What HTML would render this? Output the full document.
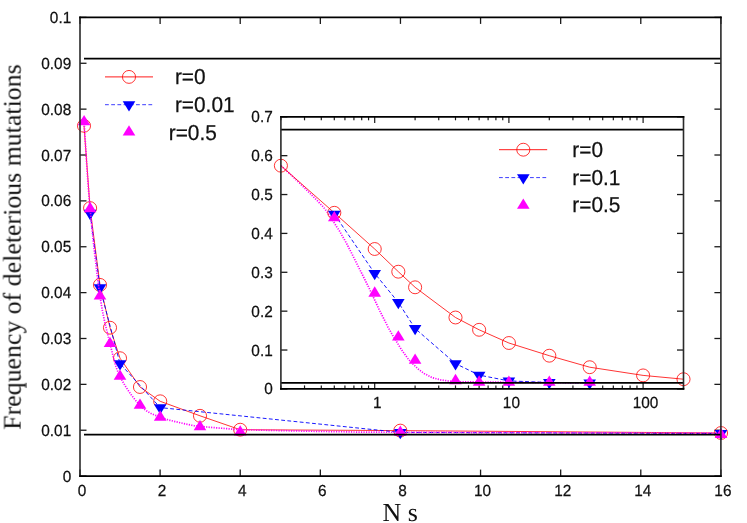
<!DOCTYPE html>
<html><head><meta charset="utf-8"><title>chart</title>
<style>html,body{margin:0;padding:0;background:#fff;}body{width:747px;height:523px;overflow:hidden;position:relative;}</style></head>
<body>
<svg width="747" height="523" viewBox="0 0 747 523" style="position:absolute;left:0;top:0">
<rect width="747" height="523" fill="#fff"/>
<line x1="80.0" y1="476.10" x2="86.5" y2="476.10" stroke="#1a1a1a" stroke-width="1.3"/>
<line x1="720.9" y1="476.10" x2="714.4" y2="476.10" stroke="#1a1a1a" stroke-width="1.3"/>
<line x1="80.0" y1="430.23" x2="86.5" y2="430.23" stroke="#1a1a1a" stroke-width="1.3"/>
<line x1="720.9" y1="430.23" x2="714.4" y2="430.23" stroke="#1a1a1a" stroke-width="1.3"/>
<line x1="80.0" y1="384.36" x2="86.5" y2="384.36" stroke="#1a1a1a" stroke-width="1.3"/>
<line x1="720.9" y1="384.36" x2="714.4" y2="384.36" stroke="#1a1a1a" stroke-width="1.3"/>
<line x1="80.0" y1="338.49" x2="86.5" y2="338.49" stroke="#1a1a1a" stroke-width="1.3"/>
<line x1="720.9" y1="338.49" x2="714.4" y2="338.49" stroke="#1a1a1a" stroke-width="1.3"/>
<line x1="80.0" y1="292.62" x2="86.5" y2="292.62" stroke="#1a1a1a" stroke-width="1.3"/>
<line x1="720.9" y1="292.62" x2="714.4" y2="292.62" stroke="#1a1a1a" stroke-width="1.3"/>
<line x1="80.0" y1="246.75" x2="86.5" y2="246.75" stroke="#1a1a1a" stroke-width="1.3"/>
<line x1="720.9" y1="246.75" x2="714.4" y2="246.75" stroke="#1a1a1a" stroke-width="1.3"/>
<line x1="80.0" y1="200.88" x2="86.5" y2="200.88" stroke="#1a1a1a" stroke-width="1.3"/>
<line x1="720.9" y1="200.88" x2="714.4" y2="200.88" stroke="#1a1a1a" stroke-width="1.3"/>
<line x1="80.0" y1="155.01" x2="86.5" y2="155.01" stroke="#1a1a1a" stroke-width="1.3"/>
<line x1="720.9" y1="155.01" x2="714.4" y2="155.01" stroke="#1a1a1a" stroke-width="1.3"/>
<line x1="80.0" y1="109.14" x2="86.5" y2="109.14" stroke="#1a1a1a" stroke-width="1.3"/>
<line x1="720.9" y1="109.14" x2="714.4" y2="109.14" stroke="#1a1a1a" stroke-width="1.3"/>
<line x1="80.0" y1="63.27" x2="86.5" y2="63.27" stroke="#1a1a1a" stroke-width="1.3"/>
<line x1="720.9" y1="63.27" x2="714.4" y2="63.27" stroke="#1a1a1a" stroke-width="1.3"/>
<line x1="80.0" y1="17.40" x2="86.5" y2="17.40" stroke="#1a1a1a" stroke-width="1.3"/>
<line x1="720.9" y1="17.40" x2="714.4" y2="17.40" stroke="#1a1a1a" stroke-width="1.3"/>
<line x1="80.00" y1="476.1" x2="80.00" y2="469.6" stroke="#1a1a1a" stroke-width="1.3"/>
<line x1="80.00" y1="17.4" x2="80.00" y2="23.9" stroke="#1a1a1a" stroke-width="1.3"/>
<line x1="160.11" y1="476.1" x2="160.11" y2="469.6" stroke="#1a1a1a" stroke-width="1.3"/>
<line x1="160.11" y1="17.4" x2="160.11" y2="23.9" stroke="#1a1a1a" stroke-width="1.3"/>
<line x1="240.22" y1="476.1" x2="240.22" y2="469.6" stroke="#1a1a1a" stroke-width="1.3"/>
<line x1="240.22" y1="17.4" x2="240.22" y2="23.9" stroke="#1a1a1a" stroke-width="1.3"/>
<line x1="320.34" y1="476.1" x2="320.34" y2="469.6" stroke="#1a1a1a" stroke-width="1.3"/>
<line x1="320.34" y1="17.4" x2="320.34" y2="23.9" stroke="#1a1a1a" stroke-width="1.3"/>
<line x1="400.45" y1="476.1" x2="400.45" y2="469.6" stroke="#1a1a1a" stroke-width="1.3"/>
<line x1="400.45" y1="17.4" x2="400.45" y2="23.9" stroke="#1a1a1a" stroke-width="1.3"/>
<line x1="480.56" y1="476.1" x2="480.56" y2="469.6" stroke="#1a1a1a" stroke-width="1.3"/>
<line x1="480.56" y1="17.4" x2="480.56" y2="23.9" stroke="#1a1a1a" stroke-width="1.3"/>
<line x1="560.67" y1="476.1" x2="560.67" y2="469.6" stroke="#1a1a1a" stroke-width="1.3"/>
<line x1="560.67" y1="17.4" x2="560.67" y2="23.9" stroke="#1a1a1a" stroke-width="1.3"/>
<line x1="640.79" y1="476.1" x2="640.79" y2="469.6" stroke="#1a1a1a" stroke-width="1.3"/>
<line x1="640.79" y1="17.4" x2="640.79" y2="23.9" stroke="#1a1a1a" stroke-width="1.3"/>
<line x1="720.90" y1="476.1" x2="720.90" y2="469.6" stroke="#1a1a1a" stroke-width="1.3"/>
<line x1="720.90" y1="17.4" x2="720.90" y2="23.9" stroke="#1a1a1a" stroke-width="1.3"/>
<line x1="280.9" y1="388.90" x2="287.4" y2="388.90" stroke="#1a1a1a" stroke-width="1.3"/>
<line x1="683.50" y1="388.90" x2="677.00" y2="388.90" stroke="#1a1a1a" stroke-width="1.3"/>
<line x1="280.9" y1="350.03" x2="287.4" y2="350.03" stroke="#1a1a1a" stroke-width="1.3"/>
<line x1="683.50" y1="350.03" x2="677.00" y2="350.03" stroke="#1a1a1a" stroke-width="1.3"/>
<line x1="280.9" y1="311.16" x2="287.4" y2="311.16" stroke="#1a1a1a" stroke-width="1.3"/>
<line x1="683.50" y1="311.16" x2="677.00" y2="311.16" stroke="#1a1a1a" stroke-width="1.3"/>
<line x1="280.9" y1="272.29" x2="287.4" y2="272.29" stroke="#1a1a1a" stroke-width="1.3"/>
<line x1="683.50" y1="272.29" x2="677.00" y2="272.29" stroke="#1a1a1a" stroke-width="1.3"/>
<line x1="280.9" y1="233.41" x2="287.4" y2="233.41" stroke="#1a1a1a" stroke-width="1.3"/>
<line x1="683.50" y1="233.41" x2="677.00" y2="233.41" stroke="#1a1a1a" stroke-width="1.3"/>
<line x1="280.9" y1="194.54" x2="287.4" y2="194.54" stroke="#1a1a1a" stroke-width="1.3"/>
<line x1="683.50" y1="194.54" x2="677.00" y2="194.54" stroke="#1a1a1a" stroke-width="1.3"/>
<line x1="280.9" y1="155.67" x2="287.4" y2="155.67" stroke="#1a1a1a" stroke-width="1.3"/>
<line x1="683.50" y1="155.67" x2="677.00" y2="155.67" stroke="#1a1a1a" stroke-width="1.3"/>
<line x1="280.9" y1="116.80" x2="287.4" y2="116.80" stroke="#1a1a1a" stroke-width="1.3"/>
<line x1="683.50" y1="116.80" x2="677.00" y2="116.80" stroke="#1a1a1a" stroke-width="1.3"/>
<line x1="280.90" y1="388.9" x2="280.90" y2="385.4" stroke="#1a1a1a" stroke-width="1.2"/>
<line x1="280.90" y1="116.8" x2="280.90" y2="120.3" stroke="#1a1a1a" stroke-width="1.2"/>
<line x1="304.53" y1="388.9" x2="304.53" y2="385.4" stroke="#1a1a1a" stroke-width="1.2"/>
<line x1="304.53" y1="116.8" x2="304.53" y2="120.3" stroke="#1a1a1a" stroke-width="1.2"/>
<line x1="321.30" y1="388.9" x2="321.30" y2="385.4" stroke="#1a1a1a" stroke-width="1.2"/>
<line x1="321.30" y1="116.8" x2="321.30" y2="120.3" stroke="#1a1a1a" stroke-width="1.2"/>
<line x1="334.30" y1="388.9" x2="334.30" y2="385.4" stroke="#1a1a1a" stroke-width="1.2"/>
<line x1="334.30" y1="116.8" x2="334.30" y2="120.3" stroke="#1a1a1a" stroke-width="1.2"/>
<line x1="344.93" y1="388.9" x2="344.93" y2="385.4" stroke="#1a1a1a" stroke-width="1.2"/>
<line x1="344.93" y1="116.8" x2="344.93" y2="120.3" stroke="#1a1a1a" stroke-width="1.2"/>
<line x1="353.91" y1="388.9" x2="353.91" y2="385.4" stroke="#1a1a1a" stroke-width="1.2"/>
<line x1="353.91" y1="116.8" x2="353.91" y2="120.3" stroke="#1a1a1a" stroke-width="1.2"/>
<line x1="361.70" y1="388.9" x2="361.70" y2="385.4" stroke="#1a1a1a" stroke-width="1.2"/>
<line x1="361.70" y1="116.8" x2="361.70" y2="120.3" stroke="#1a1a1a" stroke-width="1.2"/>
<line x1="368.56" y1="388.9" x2="368.56" y2="385.4" stroke="#1a1a1a" stroke-width="1.2"/>
<line x1="368.56" y1="116.8" x2="368.56" y2="120.3" stroke="#1a1a1a" stroke-width="1.2"/>
<line x1="374.70" y1="388.9" x2="374.70" y2="382.59999999999997" stroke="#1a1a1a" stroke-width="1.2"/>
<line x1="374.70" y1="116.8" x2="374.70" y2="123.1" stroke="#1a1a1a" stroke-width="1.2"/>
<line x1="415.10" y1="388.9" x2="415.10" y2="385.4" stroke="#1a1a1a" stroke-width="1.2"/>
<line x1="415.10" y1="116.8" x2="415.10" y2="120.3" stroke="#1a1a1a" stroke-width="1.2"/>
<line x1="438.73" y1="388.9" x2="438.73" y2="385.4" stroke="#1a1a1a" stroke-width="1.2"/>
<line x1="438.73" y1="116.8" x2="438.73" y2="120.3" stroke="#1a1a1a" stroke-width="1.2"/>
<line x1="455.50" y1="388.9" x2="455.50" y2="385.4" stroke="#1a1a1a" stroke-width="1.2"/>
<line x1="455.50" y1="116.8" x2="455.50" y2="120.3" stroke="#1a1a1a" stroke-width="1.2"/>
<line x1="468.50" y1="388.9" x2="468.50" y2="385.4" stroke="#1a1a1a" stroke-width="1.2"/>
<line x1="468.50" y1="116.8" x2="468.50" y2="120.3" stroke="#1a1a1a" stroke-width="1.2"/>
<line x1="479.13" y1="388.9" x2="479.13" y2="385.4" stroke="#1a1a1a" stroke-width="1.2"/>
<line x1="479.13" y1="116.8" x2="479.13" y2="120.3" stroke="#1a1a1a" stroke-width="1.2"/>
<line x1="488.11" y1="388.9" x2="488.11" y2="385.4" stroke="#1a1a1a" stroke-width="1.2"/>
<line x1="488.11" y1="116.8" x2="488.11" y2="120.3" stroke="#1a1a1a" stroke-width="1.2"/>
<line x1="495.90" y1="388.9" x2="495.90" y2="385.4" stroke="#1a1a1a" stroke-width="1.2"/>
<line x1="495.90" y1="116.8" x2="495.90" y2="120.3" stroke="#1a1a1a" stroke-width="1.2"/>
<line x1="502.76" y1="388.9" x2="502.76" y2="385.4" stroke="#1a1a1a" stroke-width="1.2"/>
<line x1="502.76" y1="116.8" x2="502.76" y2="120.3" stroke="#1a1a1a" stroke-width="1.2"/>
<line x1="508.90" y1="388.9" x2="508.90" y2="382.59999999999997" stroke="#1a1a1a" stroke-width="1.2"/>
<line x1="508.90" y1="116.8" x2="508.90" y2="123.1" stroke="#1a1a1a" stroke-width="1.2"/>
<line x1="549.30" y1="388.9" x2="549.30" y2="385.4" stroke="#1a1a1a" stroke-width="1.2"/>
<line x1="549.30" y1="116.8" x2="549.30" y2="120.3" stroke="#1a1a1a" stroke-width="1.2"/>
<line x1="572.93" y1="388.9" x2="572.93" y2="385.4" stroke="#1a1a1a" stroke-width="1.2"/>
<line x1="572.93" y1="116.8" x2="572.93" y2="120.3" stroke="#1a1a1a" stroke-width="1.2"/>
<line x1="589.70" y1="388.9" x2="589.70" y2="385.4" stroke="#1a1a1a" stroke-width="1.2"/>
<line x1="589.70" y1="116.8" x2="589.70" y2="120.3" stroke="#1a1a1a" stroke-width="1.2"/>
<line x1="602.70" y1="388.9" x2="602.70" y2="385.4" stroke="#1a1a1a" stroke-width="1.2"/>
<line x1="602.70" y1="116.8" x2="602.70" y2="120.3" stroke="#1a1a1a" stroke-width="1.2"/>
<line x1="613.33" y1="388.9" x2="613.33" y2="385.4" stroke="#1a1a1a" stroke-width="1.2"/>
<line x1="613.33" y1="116.8" x2="613.33" y2="120.3" stroke="#1a1a1a" stroke-width="1.2"/>
<line x1="622.31" y1="388.9" x2="622.31" y2="385.4" stroke="#1a1a1a" stroke-width="1.2"/>
<line x1="622.31" y1="116.8" x2="622.31" y2="120.3" stroke="#1a1a1a" stroke-width="1.2"/>
<line x1="630.10" y1="388.9" x2="630.10" y2="385.4" stroke="#1a1a1a" stroke-width="1.2"/>
<line x1="630.10" y1="116.8" x2="630.10" y2="120.3" stroke="#1a1a1a" stroke-width="1.2"/>
<line x1="636.96" y1="388.9" x2="636.96" y2="385.4" stroke="#1a1a1a" stroke-width="1.2"/>
<line x1="636.96" y1="116.8" x2="636.96" y2="120.3" stroke="#1a1a1a" stroke-width="1.2"/>
<line x1="643.10" y1="388.9" x2="643.10" y2="382.59999999999997" stroke="#1a1a1a" stroke-width="1.2"/>
<line x1="643.10" y1="116.8" x2="643.10" y2="123.1" stroke="#1a1a1a" stroke-width="1.2"/>
<line x1="683.50" y1="388.9" x2="683.50" y2="385.4" stroke="#1a1a1a" stroke-width="1.2"/>
<line x1="683.50" y1="116.8" x2="683.50" y2="120.3" stroke="#1a1a1a" stroke-width="1.2"/>
<polyline points="84.00,125.80 90.10,208.10 100.00,284.90 110.00,327.70 120.00,358.20 140.00,387.00 160.20,401.30 200.00,415.80 240.20,429.70 400.30,430.60 721.00,433.00" fill="none" stroke="#ff0000" stroke-width="0.8" stroke-opacity="1"/>
<ellipse cx="84.00" cy="125.80" rx="6.55" ry="6.45" fill="none" stroke="#ff0000" stroke-width="0.8"/>
<ellipse cx="90.10" cy="208.10" rx="6.55" ry="6.45" fill="none" stroke="#ff0000" stroke-width="0.8"/>
<ellipse cx="100.00" cy="284.90" rx="6.55" ry="6.45" fill="none" stroke="#ff0000" stroke-width="0.8"/>
<ellipse cx="110.00" cy="327.70" rx="6.55" ry="6.45" fill="none" stroke="#ff0000" stroke-width="0.8"/>
<ellipse cx="120.00" cy="358.20" rx="6.55" ry="6.45" fill="none" stroke="#ff0000" stroke-width="0.8"/>
<ellipse cx="140.00" cy="387.00" rx="6.55" ry="6.45" fill="none" stroke="#ff0000" stroke-width="0.8"/>
<ellipse cx="160.20" cy="401.30" rx="6.55" ry="6.45" fill="none" stroke="#ff0000" stroke-width="0.8"/>
<ellipse cx="200.00" cy="415.80" rx="6.55" ry="6.45" fill="none" stroke="#ff0000" stroke-width="0.8"/>
<ellipse cx="240.20" cy="429.70" rx="6.55" ry="6.45" fill="none" stroke="#ff0000" stroke-width="0.8"/>
<ellipse cx="400.30" cy="430.60" rx="6.55" ry="6.45" fill="none" stroke="#ff0000" stroke-width="0.8"/>
<ellipse cx="721.00" cy="433.00" rx="6.55" ry="6.45" fill="none" stroke="#ff0000" stroke-width="0.8"/>
<polyline points="90.10,213.30 100.00,287.80 120.00,363.60 160.20,407.60 400.30,432.40 721.00,433.50" fill="none" stroke="#0000ff" stroke-width="1.0" stroke-dasharray="3.8 2.4" stroke-opacity="0.9"/>
<polygon points="83.80,209.87 96.40,209.87 90.10,220.17" fill="#0000ff"/>
<polygon points="93.70,284.37 106.30,284.37 100.00,294.67" fill="#0000ff"/>
<polygon points="113.70,360.17 126.30,360.17 120.00,370.47" fill="#0000ff"/>
<polygon points="153.90,404.17 166.50,404.17 160.20,414.47" fill="#0000ff"/>
<polygon points="394.00,428.97 406.60,428.97 400.30,439.27" fill="#0000ff"/>
<polygon points="714.70,430.07 727.30,430.07 721.00,440.37" fill="#0000ff"/>
<polyline points="84.30,125.80 84.57,129.79 84.88,134.77 85.25,140.59 85.65,147.13 86.10,154.24 86.58,161.79 87.10,169.65 87.65,177.67 88.23,185.72 88.83,193.67 89.45,201.37 90.10,208.70 90.78,215.95 91.51,223.46 92.28,231.15 93.09,238.95 93.93,246.78 94.79,254.56 95.66,262.22 96.54,269.69 97.42,276.87 98.30,283.70 99.16,290.10 100.00,296.00 100.83,301.40 101.66,306.39 102.49,311.02 103.33,315.32 104.16,319.35 104.99,323.15 105.83,326.76 106.66,330.22 107.50,333.58 108.33,336.89 109.17,340.18 110.00,343.50 110.80,346.77 111.55,349.87 112.27,352.85 112.96,355.70 113.66,358.45 114.38,361.11 115.12,363.71 115.93,366.27 116.80,368.80 117.75,371.32 118.82,373.84 120.00,376.40 121.32,379.00 122.75,381.64 124.29,384.30 125.92,386.96 127.61,389.59 129.36,392.16 131.15,394.67 132.95,397.07 134.75,399.36 136.54,401.51 138.29,403.50 140.00,405.30 141.65,406.90 143.24,408.32 144.81,409.57 146.36,410.68 147.92,411.68 149.49,412.57 151.09,413.40 152.75,414.17 154.47,414.92 156.28,415.66 158.18,416.41 160.20,417.20 162.41,418.01 164.84,418.80 167.44,419.57 170.16,420.31 172.94,421.03 175.74,421.71 178.50,422.36 181.18,422.96 183.72,423.52 186.07,424.04 188.18,424.50 190.00,424.90 191.53,425.23 192.81,425.49 193.89,425.68 194.80,425.81 195.57,425.91 196.24,425.96 196.84,426.00 197.40,426.02 197.96,426.04 198.56,426.07 199.23,426.12 200.00,426.20 200.80,426.30 201.55,426.39 202.27,426.48 202.96,426.56 203.66,426.65 204.38,426.73 205.12,426.82 205.93,426.90 206.80,426.99 207.75,427.09 208.82,427.19 210.00,427.30 211.35,427.42 212.87,427.55 214.53,427.69 216.30,427.83 218.13,427.98 220.00,428.13 221.87,428.27 223.70,428.41 225.47,428.55 227.13,428.68 228.65,428.80 230.00,428.90 231.06,428.99 231.78,429.06 232.27,429.13 232.59,429.18 232.85,429.23 233.12,429.27 233.50,429.32 234.07,429.36 234.92,429.41 236.13,429.46 237.80,429.53 240.00,429.60 242.77,429.68 246.02,429.77 249.69,429.87 253.70,429.97 258.00,430.08 262.50,430.19 267.14,430.30 271.85,430.40 276.56,430.51 281.20,430.61 285.71,430.71 290.00,430.80 294.13,430.89 298.22,430.97 302.27,431.05 306.30,431.13 310.33,431.21 314.38,431.29 318.46,431.36 322.59,431.43 326.80,431.50 331.09,431.57 335.48,431.64 340.00,431.70 343.82,431.76 346.40,431.81 348.18,431.86 349.59,431.91 351.07,431.96 353.06,432.00 355.99,432.04 360.30,432.09 366.41,432.14 374.78,432.19 385.83,432.24 400.00,432.30 418.63,432.37 442.11,432.44 469.42,432.53 499.56,432.61 531.50,432.70 564.25,432.79 596.79,432.87 628.11,432.96 657.20,433.03 683.06,433.10 704.66,433.16 721.00,433.20" fill="none" stroke="#ff00ff" stroke-width="1.7" stroke-dasharray="1.2 1.3" stroke-opacity="1"/>
<polygon points="77.80,125.33 90.40,125.33 84.10,115.03" fill="#ff00ff"/>
<polygon points="83.80,212.13 96.40,212.13 90.10,201.83" fill="#ff00ff"/>
<polygon points="93.70,299.43 106.30,299.43 100.00,289.13" fill="#ff00ff"/>
<polygon points="103.70,346.93 116.30,346.93 110.00,336.63" fill="#ff00ff"/>
<polygon points="113.70,379.83 126.30,379.83 120.00,369.53" fill="#ff00ff"/>
<polygon points="133.70,408.73 146.30,408.73 140.00,398.43" fill="#ff00ff"/>
<polygon points="153.90,420.63 166.50,420.63 160.20,410.33" fill="#ff00ff"/>
<polygon points="193.70,430.33 206.30,430.33 200.00,420.03" fill="#ff00ff"/>
<polygon points="233.90,435.53 246.50,435.53 240.20,425.23" fill="#ff00ff"/>
<polygon points="394.00,435.73 406.60,435.73 400.30,425.43" fill="#ff00ff"/>
<polygon points="714.70,438.03 727.30,438.03 721.00,427.73" fill="#ff00ff"/>
<line x1="84" y1="58.68" x2="720.9" y2="58.68" stroke="#000000" stroke-width="1.8"/>
<line x1="84" y1="434.7" x2="720.9" y2="434.7" stroke="#000000" stroke-width="1.8"/>
<polyline points="281.00,165.70 290.00,174.00 300.00,183.50 310.00,193.30 317.00,200.40 323.60,207.30 328.10,213.30 331.00,217.40 333.30,221.30 336.50,226.50 339.50,231.00 346.10,242.60 350.40,250.80 355.40,260.80 360.10,270.10 365.00,279.90 369.70,289.40 373.70,297.90 380.10,311.50 385.20,321.50 387.70,326.60 392.90,335.80 396.50,341.50 400.80,348.60 403.30,352.20 408.50,359.50 413.70,364.80 418.50,369.30 424.10,373.50 432.10,377.60 440.20,379.80 448.20,381.00 455.50,381.70 479.00,382.00 509.00,382.30 549.00,382.70 589.70,382.90" fill="none" stroke="#ff00ff" stroke-width="1.7" stroke-dasharray="1.2 1.3" stroke-opacity="1"/>
<polyline points="280.90,165.70 334.30,212.80 374.70,249.00 398.33,271.70 415.10,287.30 455.50,317.50 479.13,329.80 508.90,343.00 549.30,355.70 589.70,367.20 643.10,375.40 683.50,379.20" fill="none" stroke="#ff0000" stroke-width="0.8" stroke-opacity="1"/>
<ellipse cx="280.90" cy="165.70" rx="6.55" ry="6.45" fill="none" stroke="#ff0000" stroke-width="0.8"/>
<ellipse cx="334.30" cy="212.80" rx="6.55" ry="6.45" fill="none" stroke="#ff0000" stroke-width="0.8"/>
<ellipse cx="374.70" cy="249.00" rx="6.55" ry="6.45" fill="none" stroke="#ff0000" stroke-width="0.8"/>
<ellipse cx="398.33" cy="271.70" rx="6.55" ry="6.45" fill="none" stroke="#ff0000" stroke-width="0.8"/>
<ellipse cx="415.10" cy="287.30" rx="6.55" ry="6.45" fill="none" stroke="#ff0000" stroke-width="0.8"/>
<ellipse cx="455.50" cy="317.50" rx="6.55" ry="6.45" fill="none" stroke="#ff0000" stroke-width="0.8"/>
<ellipse cx="479.13" cy="329.80" rx="6.55" ry="6.45" fill="none" stroke="#ff0000" stroke-width="0.8"/>
<ellipse cx="508.90" cy="343.00" rx="6.55" ry="6.45" fill="none" stroke="#ff0000" stroke-width="0.8"/>
<ellipse cx="549.30" cy="355.70" rx="6.55" ry="6.45" fill="none" stroke="#ff0000" stroke-width="0.8"/>
<ellipse cx="589.70" cy="367.20" rx="6.55" ry="6.45" fill="none" stroke="#ff0000" stroke-width="0.8"/>
<ellipse cx="643.10" cy="375.40" rx="6.55" ry="6.45" fill="none" stroke="#ff0000" stroke-width="0.8"/>
<ellipse cx="683.50" cy="379.20" rx="6.55" ry="6.45" fill="none" stroke="#ff0000" stroke-width="0.8"/>
<polyline points="334.30,214.10 374.70,273.40 398.33,302.40 415.10,328.50 455.50,363.60 479.13,375.10 508.90,380.90 549.30,382.50 589.70,382.90" fill="none" stroke="#0000ff" stroke-width="1.0" stroke-dasharray="3.8 2.4" stroke-opacity="0.9"/>
<polygon points="328.00,210.67 340.60,210.67 334.30,220.97" fill="#0000ff"/>
<polygon points="368.40,269.97 381.00,269.97 374.70,280.27" fill="#0000ff"/>
<polygon points="392.03,298.97 404.63,298.97 398.33,309.27" fill="#0000ff"/>
<polygon points="408.80,325.07 421.40,325.07 415.10,335.37" fill="#0000ff"/>
<polygon points="449.20,360.17 461.80,360.17 455.50,370.47" fill="#0000ff"/>
<polygon points="472.83,371.67 485.43,371.67 479.13,381.97" fill="#0000ff"/>
<polygon points="502.60,377.47 515.20,377.47 508.90,387.77" fill="#0000ff"/>
<polygon points="543.00,379.07 555.60,379.07 549.30,389.37" fill="#0000ff"/>
<polygon points="583.40,379.47 596.00,379.47 589.70,389.77" fill="#0000ff"/>
<polygon points="328.00,221.23 340.60,221.23 334.30,210.93" fill="#ff00ff"/>
<polygon points="368.40,296.63 381.00,296.63 374.70,286.33" fill="#ff00ff"/>
<polygon points="392.03,340.43 404.63,340.43 398.33,330.13" fill="#ff00ff"/>
<polygon points="408.80,363.73 421.40,363.73 415.10,353.43" fill="#ff00ff"/>
<polygon points="449.20,384.13 461.80,384.13 455.50,373.83" fill="#ff00ff"/>
<polygon points="472.83,385.63 485.43,385.63 479.13,375.33" fill="#ff00ff"/>
<polygon points="502.60,385.73 515.20,385.73 508.90,375.43" fill="#ff00ff"/>
<polygon points="543.00,385.73 555.60,385.73 549.30,375.43" fill="#ff00ff"/>
<polygon points="583.40,385.73 596.00,385.73 589.70,375.43" fill="#ff00ff"/>
<line x1="280.9" y1="129.6" x2="683.50" y2="129.6" stroke="#000000" stroke-width="1.8"/>
<line x1="280.9" y1="382.8" x2="683.50" y2="382.8" stroke="#000000" stroke-width="1.8"/>
<path d="M80.00,16.55V476.95M720.90,16.55V476.95" fill="none" stroke="#2a2a2a" stroke-width="1.6"/>
<path d="M79.20,17.40H721.70M79.20,476.10H721.70" fill="none" stroke="#000" stroke-width="1.7"/>
<path d="M280.90,115.95V389.75M683.50,115.95V389.75" fill="none" stroke="#2a2a2a" stroke-width="1.6"/>
<path d="M280.10,116.80H684.30M280.10,388.90H684.30" fill="none" stroke="#000" stroke-width="1.7"/>
<line x1="105" y1="76.9" x2="153" y2="76.9" stroke="#ff0000" stroke-width="0.9"/>
<ellipse cx="129.00" cy="76.90" rx="6.55" ry="6.45" fill="none" stroke="#ff0000" stroke-width="0.8"/>
<line x1="105" y1="104.7" x2="153" y2="104.7" stroke="#0000ff" stroke-width="0.9" stroke-dasharray="3.8 2.4" stroke-opacity="0.85"/>
<polygon points="122.70,101.27 135.30,101.27 129.00,111.57" fill="#0000ff"/>
<polygon points="122.70,135.43 135.30,135.43 129.00,125.13" fill="#ff00ff"/>
<line x1="499" y1="149.7" x2="547.2" y2="149.7" stroke="#ff0000" stroke-width="0.9"/>
<ellipse cx="523.30" cy="149.70" rx="6.55" ry="6.45" fill="none" stroke="#ff0000" stroke-width="0.8"/>
<line x1="499" y1="177.6" x2="547.2" y2="177.6" stroke="#0000ff" stroke-width="0.9" stroke-dasharray="3.8 2.4" stroke-opacity="0.85"/>
<polygon points="517.00,174.17 529.60,174.17 523.30,184.47" fill="#0000ff"/>
<polygon points="517.00,208.73 529.60,208.73 523.30,198.43" fill="#ff00ff"/>
<g opacity="0.999">
<text transform="translate(71.20,481.60) scale(0.96,1)" font-family="'Liberation Sans', sans-serif" font-size="16" text-anchor="end" fill="#111" stroke="#111" stroke-width="0.25" text-rendering="geometricPrecision">0</text>
<text transform="translate(71.20,435.73) scale(0.96,1)" font-family="'Liberation Sans', sans-serif" font-size="16" text-anchor="end" fill="#111" stroke="#111" stroke-width="0.25" text-rendering="geometricPrecision">0.01</text>
<text transform="translate(71.20,389.86) scale(0.96,1)" font-family="'Liberation Sans', sans-serif" font-size="16" text-anchor="end" fill="#111" stroke="#111" stroke-width="0.25" text-rendering="geometricPrecision">0.02</text>
<text transform="translate(71.20,343.99) scale(0.96,1)" font-family="'Liberation Sans', sans-serif" font-size="16" text-anchor="end" fill="#111" stroke="#111" stroke-width="0.25" text-rendering="geometricPrecision">0.03</text>
<text transform="translate(71.20,298.12) scale(0.96,1)" font-family="'Liberation Sans', sans-serif" font-size="16" text-anchor="end" fill="#111" stroke="#111" stroke-width="0.25" text-rendering="geometricPrecision">0.04</text>
<text transform="translate(71.20,252.25) scale(0.96,1)" font-family="'Liberation Sans', sans-serif" font-size="16" text-anchor="end" fill="#111" stroke="#111" stroke-width="0.25" text-rendering="geometricPrecision">0.05</text>
<text transform="translate(71.20,206.38) scale(0.96,1)" font-family="'Liberation Sans', sans-serif" font-size="16" text-anchor="end" fill="#111" stroke="#111" stroke-width="0.25" text-rendering="geometricPrecision">0.06</text>
<text transform="translate(71.20,160.51) scale(0.96,1)" font-family="'Liberation Sans', sans-serif" font-size="16" text-anchor="end" fill="#111" stroke="#111" stroke-width="0.25" text-rendering="geometricPrecision">0.07</text>
<text transform="translate(71.20,114.64) scale(0.96,1)" font-family="'Liberation Sans', sans-serif" font-size="16" text-anchor="end" fill="#111" stroke="#111" stroke-width="0.25" text-rendering="geometricPrecision">0.08</text>
<text transform="translate(71.20,68.77) scale(0.96,1)" font-family="'Liberation Sans', sans-serif" font-size="16" text-anchor="end" fill="#111" stroke="#111" stroke-width="0.25" text-rendering="geometricPrecision">0.09</text>
<text transform="translate(71.20,22.90) scale(0.96,1)" font-family="'Liberation Sans', sans-serif" font-size="16" text-anchor="end" fill="#111" stroke="#111" stroke-width="0.25" text-rendering="geometricPrecision">0.1</text>
<text transform="translate(82.00,495.90) scale(0.96,1)" font-family="'Liberation Sans', sans-serif" font-size="16" text-anchor="middle" fill="#111" stroke="#111" stroke-width="0.25" text-rendering="geometricPrecision">0</text>
<text transform="translate(162.11,495.90) scale(0.96,1)" font-family="'Liberation Sans', sans-serif" font-size="16" text-anchor="middle" fill="#111" stroke="#111" stroke-width="0.25" text-rendering="geometricPrecision">2</text>
<text transform="translate(242.22,495.90) scale(0.96,1)" font-family="'Liberation Sans', sans-serif" font-size="16" text-anchor="middle" fill="#111" stroke="#111" stroke-width="0.25" text-rendering="geometricPrecision">4</text>
<text transform="translate(322.34,495.90) scale(0.96,1)" font-family="'Liberation Sans', sans-serif" font-size="16" text-anchor="middle" fill="#111" stroke="#111" stroke-width="0.25" text-rendering="geometricPrecision">6</text>
<text transform="translate(402.45,495.90) scale(0.96,1)" font-family="'Liberation Sans', sans-serif" font-size="16" text-anchor="middle" fill="#111" stroke="#111" stroke-width="0.25" text-rendering="geometricPrecision">8</text>
<text transform="translate(482.56,495.90) scale(0.96,1)" font-family="'Liberation Sans', sans-serif" font-size="16" text-anchor="middle" fill="#111" stroke="#111" stroke-width="0.25" text-rendering="geometricPrecision">10</text>
<text transform="translate(562.67,495.90) scale(0.96,1)" font-family="'Liberation Sans', sans-serif" font-size="16" text-anchor="middle" fill="#111" stroke="#111" stroke-width="0.25" text-rendering="geometricPrecision">12</text>
<text transform="translate(642.79,495.90) scale(0.96,1)" font-family="'Liberation Sans', sans-serif" font-size="16" text-anchor="middle" fill="#111" stroke="#111" stroke-width="0.25" text-rendering="geometricPrecision">14</text>
<text transform="translate(722.90,495.90) scale(0.96,1)" font-family="'Liberation Sans', sans-serif" font-size="16" text-anchor="middle" fill="#111" stroke="#111" stroke-width="0.25" text-rendering="geometricPrecision">16</text>
<text transform="translate(272.70,394.40) scale(0.96,1)" font-family="'Liberation Sans', sans-serif" font-size="16" text-anchor="end" fill="#111" stroke="#111" stroke-width="0.25" text-rendering="geometricPrecision">0</text>
<text transform="translate(272.70,355.53) scale(0.96,1)" font-family="'Liberation Sans', sans-serif" font-size="16" text-anchor="end" fill="#111" stroke="#111" stroke-width="0.25" text-rendering="geometricPrecision">0.1</text>
<text transform="translate(272.70,316.66) scale(0.96,1)" font-family="'Liberation Sans', sans-serif" font-size="16" text-anchor="end" fill="#111" stroke="#111" stroke-width="0.25" text-rendering="geometricPrecision">0.2</text>
<text transform="translate(272.70,277.79) scale(0.96,1)" font-family="'Liberation Sans', sans-serif" font-size="16" text-anchor="end" fill="#111" stroke="#111" stroke-width="0.25" text-rendering="geometricPrecision">0.3</text>
<text transform="translate(272.70,238.91) scale(0.96,1)" font-family="'Liberation Sans', sans-serif" font-size="16" text-anchor="end" fill="#111" stroke="#111" stroke-width="0.25" text-rendering="geometricPrecision">0.4</text>
<text transform="translate(272.70,200.04) scale(0.96,1)" font-family="'Liberation Sans', sans-serif" font-size="16" text-anchor="end" fill="#111" stroke="#111" stroke-width="0.25" text-rendering="geometricPrecision">0.5</text>
<text transform="translate(272.70,161.17) scale(0.96,1)" font-family="'Liberation Sans', sans-serif" font-size="16" text-anchor="end" fill="#111" stroke="#111" stroke-width="0.25" text-rendering="geometricPrecision">0.6</text>
<text transform="translate(272.70,122.30) scale(0.96,1)" font-family="'Liberation Sans', sans-serif" font-size="16" text-anchor="end" fill="#111" stroke="#111" stroke-width="0.25" text-rendering="geometricPrecision">0.7</text>
<text transform="translate(377.20,408.40) scale(0.96,1)" font-family="'Liberation Sans', sans-serif" font-size="16" text-anchor="middle" fill="#111" stroke="#111" stroke-width="0.25" text-rendering="geometricPrecision">1</text>
<text transform="translate(511.40,408.40) scale(0.96,1)" font-family="'Liberation Sans', sans-serif" font-size="16" text-anchor="middle" fill="#111" stroke="#111" stroke-width="0.25" text-rendering="geometricPrecision">10</text>
<text transform="translate(645.60,408.40) scale(0.96,1)" font-family="'Liberation Sans', sans-serif" font-size="16" text-anchor="middle" fill="#111" stroke="#111" stroke-width="0.25" text-rendering="geometricPrecision">100</text>
<text transform="translate(174.90,84.20) scale(0.965,1)" font-family="'Liberation Sans', sans-serif" font-size="21.6" text-anchor="start" fill="#111" stroke="#111" stroke-width="0.25" text-rendering="geometricPrecision">r=0</text>
<text transform="translate(174.90,111.80) scale(0.965,1)" font-family="'Liberation Sans', sans-serif" font-size="21.6" text-anchor="start" fill="#111" stroke="#111" stroke-width="0.25" text-rendering="geometricPrecision">r=0.01</text>
<text transform="translate(168.70,139.50) scale(0.965,1)" font-family="'Liberation Sans', sans-serif" font-size="21.6" text-anchor="start" fill="#111" stroke="#111" stroke-width="0.25" text-rendering="geometricPrecision">r=0.5</text>
<text transform="translate(572.30,157.40) scale(0.965,1)" font-family="'Liberation Sans', sans-serif" font-size="21.6" text-anchor="start" fill="#111" stroke="#111" stroke-width="0.25" text-rendering="geometricPrecision">r=0</text>
<text transform="translate(572.30,185.00) scale(0.965,1)" font-family="'Liberation Sans', sans-serif" font-size="21.6" text-anchor="start" fill="#111" stroke="#111" stroke-width="0.25" text-rendering="geometricPrecision">r=0.1</text>
<text transform="translate(572.30,212.40) scale(0.965,1)" font-family="'Liberation Sans', sans-serif" font-size="21.6" text-anchor="start" fill="#111" stroke="#111" stroke-width="0.25" text-rendering="geometricPrecision">r=0.5</text>
<text transform="translate(20.6,429.8) rotate(-90)" font-family="'Liberation Serif', serif" font-size="25.3" fill="#111" text-rendering="geometricPrecision" textLength="365.5" lengthAdjust="spacingAndGlyphs">Frequency of deleterious mutations</text>
<text x="382.6" y="520.8" font-family="'Liberation Serif', serif" font-size="26" fill="#111" text-rendering="geometricPrecision">N s</text>
</g>
</svg>
</body></html>
